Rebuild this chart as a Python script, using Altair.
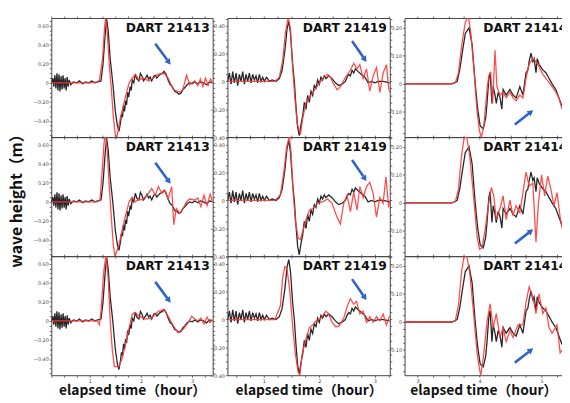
import math
import json
import altair as alt
import pandas as pd

STATIONS = ["DART 21413", "DART 21419", "DART 21414"]

# ---------------- column 1 : DART 21413 ----------------
C1_OBS_T = [0.26, 0.28, 0.30, 0.32, 0.34, 0.36, 0.38, 0.40, 0.42, 0.44, 0.46, 0.48, 0.50, 0.52, 0.54,
            0.56, 0.58, 0.60, 0.63, 0.68, 0.75, 0.80, 0.86, 0.92, 0.98, 1.04, 1.10, 1.16, 1.22, 1.26,
            1.30, 1.33, 1.36, 1.40, 1.45, 1.50, 1.54, 1.57, 1.60, 1.62, 1.64, 1.66, 1.68, 1.70, 1.72,
            1.74, 1.76, 1.79, 1.81, 1.83, 1.86, 1.89, 1.92, 1.96, 1.99, 2.02, 2.05, 2.09, 2.12, 2.15,
            2.18, 2.21, 2.25, 2.28, 2.31, 2.34, 2.38, 2.42, 2.45, 2.49, 2.53, 2.57, 2.60, 2.63, 2.66,
            2.70, 2.74, 2.78, 2.82, 2.86, 2.90, 2.95, 3.00, 3.05, 3.11, 3.16, 3.22, 3.28, 3.34, 3.40]
C1_OBS_V = [0.00, 0.05, -0.04, 0.08, -0.06, 0.10, -0.08, 0.09, -0.09, 0.07, -0.07, 0.08, -0.06, 0.05, -0.08,
            0.06, -0.04, 0.03, -0.02, 0.01, 0.00, 0.02, -0.01, 0.01, 0.00, 0.02, 0.00, 0.01, 0.02, 0.20,
            0.50, 0.67, 0.55, 0.25, 0.00, -0.30, -0.45, -0.51, -0.42, -0.33, -0.36, -0.24, -0.30, -0.19, -0.23,
            -0.10, -0.15, -0.04, -0.08, 0.03, 0.00, 0.09, 0.04, 0.02, 0.10, 0.07, 0.02, 0.05, 0.08, 0.04,
            0.06, 0.02, 0.07, 0.08, 0.05, 0.07, 0.09, 0.10, 0.12, 0.09, 0.03, -0.02, -0.03, -0.06, -0.09,
            -0.10, -0.12, -0.11, -0.07, -0.05, -0.02, 0.00, -0.01, 0.01, -0.01, 0.01, 0.00, -0.02, 0.01, 0.00]

C1_SIM1_T = [0.26, 0.60, 1.00, 1.15, 1.19, 1.25, 1.29, 1.31, 1.34, 1.38, 1.42, 1.46, 1.50, 1.53, 1.56,
             1.60, 1.64, 1.70, 1.77, 1.83, 1.89, 1.96, 2.05, 2.15, 2.24, 2.34, 2.45, 2.53, 2.63, 2.76,
             2.82, 2.89, 2.95, 3.05, 3.11, 3.16, 3.21, 3.26, 3.31, 3.36, 3.40]
C1_SIM1_V = [0.00, 0.00, 0.00, 0.01, 0.03, 0.25, 0.58, 0.68, 0.55, 0.20, -0.05, -0.35, -0.55, -0.57, -0.48,
             -0.36, -0.28, -0.14, 0.00, 0.05, 0.09, 0.03, 0.05, 0.02, 0.05, 0.09, 0.10, 0.05, -0.07, -0.10,
             -0.07, 0.08, -0.02, 0.02, -0.03, 0.04, -0.04, 0.05, -0.03, 0.04, 0.00]

C1_SIM2_T = [0.26, 1.15, 1.20, 1.24, 1.28, 1.31, 1.34, 1.38, 1.42, 1.46, 1.49, 1.53, 1.57, 1.64, 1.70,
             1.77, 1.83, 1.89, 1.96, 2.02, 2.12, 2.21, 2.28, 2.34, 2.41, 2.47, 2.53, 2.60, 2.64, 2.69,
             2.76, 2.82, 2.89, 2.95, 3.05, 3.11, 3.17, 3.23, 3.29, 3.35, 3.40]
C1_SIM2_V = [0.00, 0.00, 0.02, 0.30, 0.62, 0.72, 0.55, 0.18, -0.15, -0.45, -0.56, -0.52, -0.45, -0.28, -0.14,
             0.00, 0.05, 0.00, 0.03, 0.02, 0.07, 0.14, 0.07, 0.16, 0.09, 0.12, 0.03, 0.16, -0.24, -0.07,
             -0.12, -0.07, 0.00, 0.03, 0.02, 0.04, -0.05, 0.07, -0.04, 0.08, 0.00]

C1_SIM3_T = [0.26, 1.15, 1.19, 1.22, 1.27, 1.32, 1.36, 1.40, 1.44, 1.48, 1.57, 1.64, 1.70, 1.77, 1.83,
             1.89, 1.96, 2.09, 2.21, 2.34, 2.45, 2.53, 2.63, 2.72, 2.82, 2.92, 2.99, 3.05, 3.11, 3.17,
             3.23, 3.29, 3.35, 3.40]
C1_SIM3_V = [0.00, 0.00, -0.04, 0.10, 0.50, 0.70, 0.45, 0.00, -0.30, -0.48, -0.48, -0.38, -0.24, -0.07, 0.07,
             0.09, 0.05, 0.02, 0.03, 0.10, 0.12, 0.05, -0.05, -0.12, -0.09, -0.02, 0.05, 0.02, 0.00, 0.03,
             -0.03, 0.04, -0.02, 0.02]

# ---------------- column 2 : DART 21419 ----------------
C2_OBS_T = [0.35, 0.38, 0.41, 0.44, 0.47, 0.50, 0.53, 0.56, 0.59, 0.62, 0.65, 0.68, 0.71, 0.74, 0.77,
            0.80, 0.83, 0.86, 0.89, 0.92, 0.95, 0.98, 1.01, 1.05, 1.10, 1.15, 1.22, 1.28, 1.33, 1.38,
            1.42, 1.45, 1.48, 1.52, 1.55, 1.58, 1.61, 1.64, 1.67, 1.70, 1.73, 1.76, 1.79, 1.82, 1.85,
            1.88, 1.91, 1.94, 1.97, 2.00, 2.03, 2.06, 2.09, 2.12, 2.17, 2.23, 2.29, 2.35, 2.41, 2.47,
            2.50, 2.53, 2.56, 2.59, 2.62, 2.65, 2.70, 2.76, 2.82, 2.88, 2.94, 3.00, 3.06, 3.15, 3.27]
C2_OBS_V = [0.00, 0.06, -0.02, 0.07, -0.01, 0.06, -0.03, 0.05, 0.00, 0.07, -0.02, 0.05, 0.00, 0.06, -0.01,
            0.05, 0.01, 0.04, -0.01, 0.05, 0.00, 0.03, 0.00, 0.03, 0.00, 0.01, 0.00, 0.02, 0.08, 0.22,
            0.38, 0.43, 0.35, 0.12, 0.00, -0.18, -0.33, -0.39, -0.31, -0.25, -0.15, -0.20, -0.10, -0.15, -0.07,
            -0.10, -0.03, -0.05, 0.01, -0.02, 0.03, 0.01, 0.04, 0.02, 0.04, 0.02, -0.01, -0.03, -0.02, 0.00,
            0.03, 0.05, 0.04, 0.08, 0.06, 0.09, 0.07, 0.05, 0.03, -0.01, 0.00, -0.01, 0.00, 0.00, -0.01]

C2_SIM1_T = [0.35, 1.20, 1.28, 1.34, 1.39, 1.44, 1.48, 1.52, 1.56, 1.60, 1.66, 1.70, 1.76, 1.88, 1.97,
             2.06, 2.15, 2.20, 2.26, 2.32, 2.38, 2.47, 2.56, 2.62, 2.68, 2.73, 2.79, 2.85, 2.91, 2.97,
             3.03, 3.09, 3.15, 3.21, 3.25, 3.27]
C2_SIM1_V = [0.00, 0.00, 0.03, 0.15, 0.35, 0.46, 0.38, 0.10, -0.12, -0.30, -0.38, -0.27, -0.15, -0.08, -0.03,
             0.02, 0.05, 0.03, -0.02, -0.06, -0.04, 0.03, 0.08, 0.13, 0.09, 0.12, 0.02, 0.09, -0.07, 0.04,
             0.10, -0.08, 0.06, 0.12, -0.05, -0.08]

C2_SIM2_T = [0.35, 1.20, 1.30, 1.36, 1.41, 1.46, 1.49, 1.53, 1.57, 1.62, 1.66, 1.76, 1.82, 1.88, 1.97,
             2.06, 2.15, 2.23, 2.32, 2.38, 2.44, 2.50, 2.56, 2.62, 2.68, 2.73, 2.79, 2.85, 2.91, 2.97,
             3.03, 3.09, 3.15, 3.20, 3.25, 3.27]
C2_SIM2_V = [0.00, 0.00, 0.04, 0.20, 0.38, 0.46, 0.35, 0.05, -0.15, -0.27, -0.28, -0.14, -0.07, -0.06, -0.02,
             -0.01, 0.01, -0.02, -0.12, -0.17, -0.02, 0.04, -0.08, 0.06, -0.07, 0.10, 0.02, 0.10, 0.13, 0.05,
             -0.12, 0.02, -0.02, 0.17, -0.05, 0.00]

C2_SIM3_T = [0.35, 1.20, 1.30, 1.34, 1.38, 1.42, 1.47, 1.52, 1.57, 1.62, 1.65, 1.69, 1.76, 1.82, 1.88,
             1.94, 2.03, 2.12, 2.17, 2.23, 2.29, 2.35, 2.44, 2.50, 2.56, 2.62, 2.67, 2.73, 2.79, 2.85,
             2.91, 2.97, 3.03, 3.09, 3.15, 3.21, 3.27]
C2_SIM3_V = [0.00, 0.00, 0.10, 0.30, 0.38, 0.36, 0.20, -0.05, -0.25, -0.38, -0.40, -0.25, -0.14, -0.06, -0.04,
             -0.01, 0.01, 0.06, 0.04, -0.02, -0.05, -0.05, 0.01, 0.09, 0.15, 0.11, 0.13, 0.04, 0.06, -0.02,
             0.02, -0.02, 0.02, -0.01, 0.04, -0.04, 0.03]

# ---------------- column 3 : DART 21414 ----------------
C3_OBS_T = [2.79, 3.00, 3.30, 3.55, 3.61, 3.64, 3.68, 3.72, 3.77, 3.83, 3.88, 3.93, 3.97, 4.01, 4.06,
            4.10, 4.12, 4.15, 4.17, 4.20, 4.22, 4.25, 4.27, 4.30, 4.33, 4.36, 4.38, 4.43, 4.49, 4.54,
            4.59, 4.65, 4.70, 4.75, 4.78, 4.80, 4.83, 4.86, 4.88, 4.91, 4.93, 4.96, 5.02, 5.07, 5.12,
            5.17, 5.23, 5.28, 5.33]
C3_OBS_V = [0.000, 0.000, 0.000, 0.000, 0.005, 0.010, 0.050, 0.110, 0.180, 0.200, 0.140, 0.000, -0.090, -0.150, -0.160,
            -0.120, -0.070, 0.020, 0.040, -0.070, -0.010, -0.040, -0.070, -0.030, -0.050, -0.090, -0.020, -0.040, -0.020, -0.040,
            -0.050, -0.010, -0.040, 0.040, 0.050, 0.080, 0.110, 0.080, 0.090, 0.040, 0.090, 0.070, 0.050, 0.040, 0.020,
            0.000, -0.020, -0.050, -0.080]

C3_SIM1_T = [2.79, 3.55, 3.61, 3.66, 3.72, 3.77, 3.82, 3.86, 3.91, 3.96, 4.00, 4.03, 4.07, 4.12, 4.15,
             4.18, 4.21, 4.25, 4.28, 4.33, 4.38, 4.43, 4.49, 4.54, 4.59, 4.65, 4.70, 4.75, 4.80, 4.86,
             4.91, 4.96, 5.02, 5.07, 5.12, 5.17, 5.23, 5.28, 5.33]
C3_SIM1_V = [0.000, 0.000, 0.005, 0.040, 0.150, 0.220, 0.240, 0.180, 0.050, -0.100, -0.170, -0.190, -0.150, -0.020, 0.030,
             0.040, -0.070, 0.120, -0.010, -0.040, -0.030, -0.050, -0.030, -0.050, -0.060, -0.040, -0.050, 0.020, 0.070, 0.090,
             0.080, 0.060, 0.035, 0.020, 0.005, -0.010, -0.030, -0.050, -0.090]

C3_SIM2_T = [2.79, 3.55, 3.61, 3.66, 3.71, 3.75, 3.79, 3.84, 3.90, 3.96, 4.00, 4.04, 4.09, 4.14, 4.19,
             4.23, 4.27, 4.33, 4.38, 4.43, 4.49, 4.54, 4.59, 4.65, 4.70, 4.75, 4.80, 4.86, 4.91, 4.95,
             5.00, 5.05, 5.10, 5.15, 5.20, 5.25, 5.30, 5.33]
C3_SIM2_V = [0.000, 0.000, 0.005, 0.050, 0.170, 0.230, 0.240, 0.170, 0.030, -0.120, -0.165, -0.160, -0.095, -0.010, 0.055,
             0.025, -0.060, -0.020, 0.025, -0.060, 0.010, -0.045, -0.010, -0.035, 0.037, 0.110, 0.060, 0.070, -0.140, 0.000,
             0.100, 0.025, 0.096, 0.050, -0.010, 0.037, -0.050, -0.090]

C3_SIM3_T = [2.79, 3.55, 3.61, 3.66, 3.71, 3.75, 3.79, 3.84, 3.90, 3.96, 4.00, 4.02, 4.06, 4.12, 4.17,
             4.22, 4.27, 4.33, 4.38, 4.43, 4.49, 4.54, 4.62, 4.70, 4.75, 4.80, 4.86, 4.91, 4.96, 5.02,
             5.07, 5.12, 5.17, 5.25, 5.30, 5.33]
C3_SIM3_V = [0.000, 0.000, 0.005, 0.060, 0.180, 0.235, 0.240, 0.180, 0.040, -0.110, -0.170, -0.190, -0.130, 0.000, 0.065,
             -0.020, 0.030, -0.055, -0.020, -0.070, -0.030, -0.055, -0.010, -0.010, 0.070, 0.125, 0.088, 0.030, 0.100, 0.030,
             0.050, -0.020, -0.040, -0.010, -0.110, -0.100]

# blue arrows (data units, one per column)
ARROW_FROM_T = [2.28, 2.59, 4.57]
ARROW_FROM_V = [0.41, 0.29, -0.145]
ARROW_TO_T = [2.58, 2.85, 4.86]
ARROW_TO_V = [0.19, 0.14, -0.095]

OBS_T = [C1_OBS_T, C2_OBS_T, C3_OBS_T]
OBS_V = [C1_OBS_V, C2_OBS_V, C3_OBS_V]
SIM_T = [[C1_SIM1_T, C1_SIM2_T, C1_SIM3_T], [C2_SIM1_T, C2_SIM2_T, C2_SIM3_T], [C3_SIM1_T, C3_SIM2_T, C3_SIM3_T]]
SIM_V = [[C1_SIM1_V, C1_SIM2_V, C1_SIM3_V], [C2_SIM1_V, C2_SIM2_V, C2_SIM3_V], [C3_SIM1_V, C3_SIM2_V, C3_SIM3_V]]

# axis settings
X_DOMAINS = [[0.25, 3.40], [0.345, 3.27], [2.79, 5.33]]
Y_DOMAINS = [[-0.57, 0.68], [-0.40, 0.455], [-0.19, 0.235]]
X_LABELS = [[1, 2, 3], [1, 2, 3], [3, 4, 5]]
Y_LABELS = [[0.6, 0.4, 0.2, -0.2, -0.4], [0.4, 0.2, -0.2, -0.4], [0.2, 0.1, -0.1]]
X_STEP = [0.25, 0.25, 0.25]
Y_STEP = [0.05, 0.05, 0.025]

WIDTHS = [164, 165, 160]
HEIGHT = 121
TITLE_FONT = "Noto Sans CJK JP"
BLACK = "#262626"
RED = "#ff3a3a"
BLUE = "#2e62cc"


def tick_values(lo, hi, step):
    k0 = math.ceil(lo / step - 1e-9)
    k1 = math.floor(hi / step + 1e-9)
    return [round(k * step, 4) for k in range(k0, k1 + 1)]


def panel(ci, ri):
    w = WIDTHS[ci]
    xd, yd = X_DOMAINS[ci], Y_DOMAINS[ci]
    xs = alt.Scale(domain=xd, nice=False, zero=False)
    ys = alt.Scale(domain=yd, nice=False, zero=False)
    xt = tick_values(xd[0], xd[1], X_STEP[ci])
    yt = tick_values(yd[0], yd[1], Y_STEP[ci])
    x_expr = f"indexof({json.dumps(X_LABELS[ci])}, datum.value) >= 0 ? format(datum.value, 'd') : ''"
    y_expr = (f"datum.value == 0 ? '0' : (indexof({json.dumps(Y_LABELS[ci])}, datum.value) >= 0 ? "
              f"format(datum.value, '.2f') : '')")
    bottom = ri == 2
    x_bottom = alt.Axis(values=xt, labels=bottom, labelExpr=x_expr, labelOverlap=False, labelFlush=False,
                        title="elapsed time（hour）" if bottom else None,
                        titleFontSize=14, titlePadding=1)
    y_left = alt.Axis(values=yt, labelExpr=y_expr, labelOverlap=False, labelFlush=False,
                      title="wave height（m）" if (ci == 0 and ri == 1) else None,
                      titleFontSize=16, titlePadding=9)
    x_top = alt.Axis(orient="top", values=xt, labels=False, title=None)
    y_right = None if ci == 2 else alt.Axis(orient="right", values=yt, labels=False, title=None)

    obs = pd.DataFrame({"t": OBS_T[ci], "v": OBS_V[ci]})
    sim = pd.DataFrame({"t": SIM_T[ci][ri], "v": SIM_V[ci][ri]})

    black = alt.Chart(obs).mark_line(color=BLACK, strokeWidth=1.3, clip=True).encode(
        x=alt.X("t:Q", scale=xs, axis=x_bottom),
        y=alt.Y("v:Q", scale=ys, axis=y_left),
    )
    red = alt.Chart(sim).mark_line(color=RED, strokeWidth=1.3, opacity=0.9, clip=True).encode(
        x=alt.X("t:Q", scale=xs, axis=x_top),
        y=alt.Y("v:Q", scale=ys, axis=y_right),
    )

    t0, v0, t1, v1 = ARROW_FROM_T[ci], ARROW_FROM_V[ci], ARROW_TO_T[ci], ARROW_TO_V[ci]
    dx = (t1 - t0) / (xd[1] - xd[0]) * w
    dy = -(v1 - v0) / (yd[1] - yd[0]) * HEIGHT
    ang = math.degrees(math.atan2(dx, -dy)) % 360
    shaft = pd.DataFrame({"t0": [t0], "v0": [v0],
                          "t1": [t0 + 0.78 * (t1 - t0)], "v1": [v0 + 0.78 * (v1 - v0)]})
    head = pd.DataFrame({"t": [t0 + 0.85 * (t1 - t0)], "v": [v0 + 0.85 * (v1 - v0)]})
    arrow_line = alt.Chart(shaft).mark_rule(color=BLUE, strokeWidth=2.6).encode(
        x=alt.X("t0:Q", scale=xs, axis=None), y=alt.Y("v0:Q", scale=ys, axis=None),
        x2="t1:Q", y2="v1:Q",
    )
    arrow_head = alt.Chart(head).mark_point(shape="triangle", filled=True, color=BLUE, opacity=1,
                                            size=45, angle=round(ang, 1)).encode(
        x=alt.X("t:Q", scale=xs, axis=None), y=alt.Y("v:Q", scale=ys, axis=None),
    )

    lab = pd.DataFrame({"s": [STATIONS[ci]]})
    if ci == 2:
        text = alt.Chart(lab).mark_text(align="left", baseline="top", fontSize=12.5, fontWeight="bold",
                                        font="DejaVu Sans", color="#111", clip=True).encode(
            text="s:N", x=alt.value(80), y=alt.value(4))
    else:
        text = alt.Chart(lab).mark_text(align="right", baseline="top", fontSize=12.5, fontWeight="bold",
                                        font="DejaVu Sans", color="#111", clip=True).encode(
            text="s:N", x=alt.value(w - 3), y=alt.value(4))

    return alt.layer(black, red, arrow_line, arrow_head, text).resolve_axis(
        x="independent", y="independent").properties(width=w, height=HEIGHT)


panels = [panel(ci, ri) for ri in range(3) for ci in range(3)]

chart = alt.concat(*panels, columns=3, spacing={"row": 0, "column": 15}, bounds="flush").properties(
    padding={"left": 0, "top": 4, "right": 0, "bottom": 0}
).configure_view(stroke=None).configure_axis(
    grid=False, domainColor="#444", domainWidth=1, tickColor="#444", tickSize=2, tickWidth=0.8,
    labelFontSize=5, labelColor="#444", labelPadding=1, labelFont="DejaVu Sans",
    titleFont=TITLE_FONT, titleFontWeight="bold", titleColor="#111",
)

chart.save("out.html", embed_options={"renderer": "svg", "actions": False})
